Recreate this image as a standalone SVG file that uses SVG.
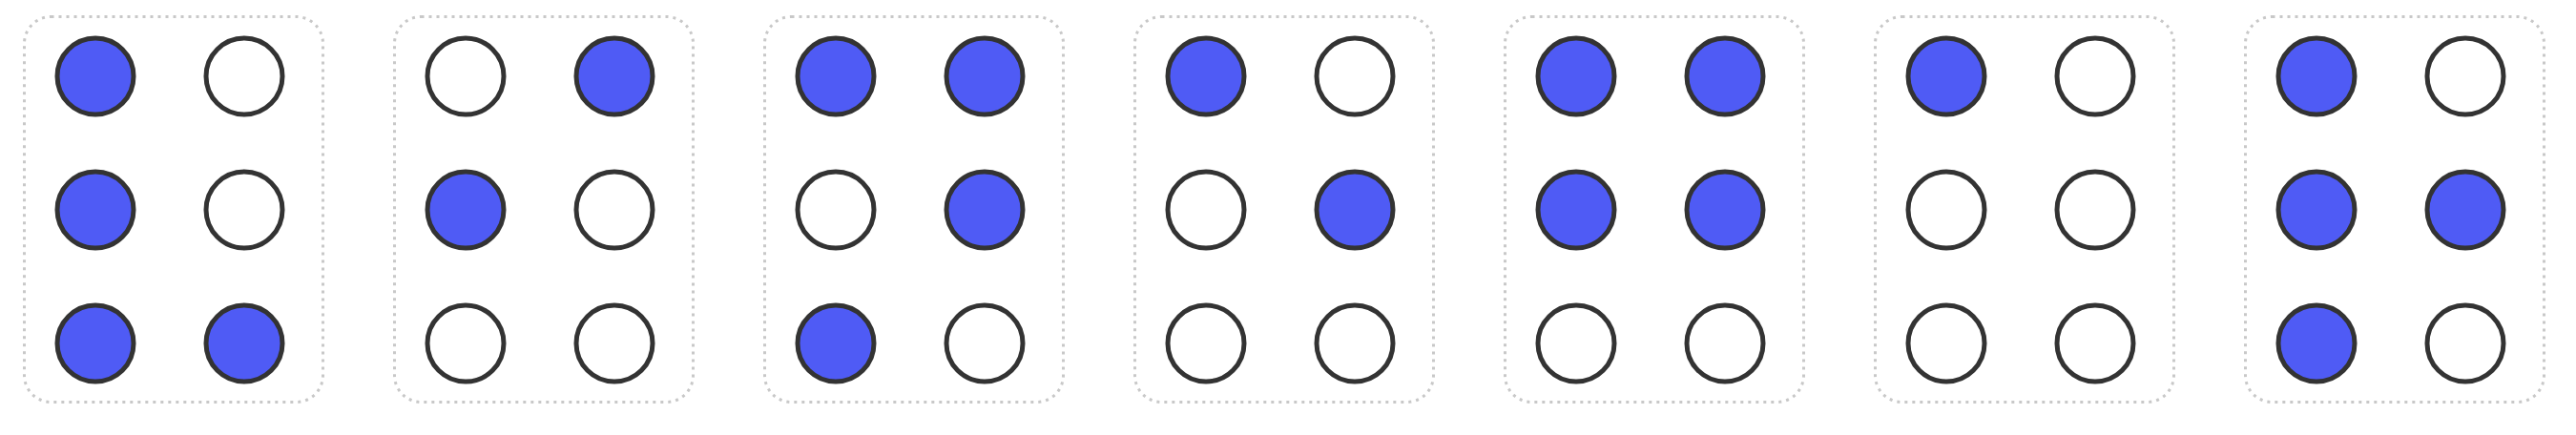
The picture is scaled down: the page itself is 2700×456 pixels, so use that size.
<svg xmlns="http://www.w3.org/2000/svg" width="2700" height="456" viewBox="0 0 2700 456">
<style>
.cell{fill:none;stroke:#c8c8c8;stroke-width:3;stroke-dasharray:3 5}
.dot{stroke:#333333;stroke-width:5;fill:#ffffff}
.on{fill:#4f5bf5}
</style>
<defs>
<rect id="frame" class="cell" x="25.5" y="17.5" width="313" height="404" rx="28" ry="28"/>
</defs>
<rect width="2700" height="456" fill="#ffffff"/>
<g id="cell1">
<use href="#frame"/>
<circle class="dot on" cx="100" cy="80" r="40"/><circle class="dot" cx="256" cy="80" r="40"/>
<circle class="dot on" cx="100" cy="220" r="40"/><circle class="dot" cx="256" cy="220" r="40"/>
<circle class="dot on" cx="100" cy="360" r="40"/><circle class="dot on" cx="256" cy="360" r="40"/>
</g>
<g id="cell2" transform="translate(388,0)">
<use href="#frame"/>
<circle class="dot" cx="100" cy="80" r="40"/><circle class="dot on" cx="256" cy="80" r="40"/>
<circle class="dot on" cx="100" cy="220" r="40"/><circle class="dot" cx="256" cy="220" r="40"/>
<circle class="dot" cx="100" cy="360" r="40"/><circle class="dot" cx="256" cy="360" r="40"/>
</g>
<g id="cell3" transform="translate(776,0)">
<use href="#frame"/>
<circle class="dot on" cx="100" cy="80" r="40"/><circle class="dot on" cx="256" cy="80" r="40"/>
<circle class="dot" cx="100" cy="220" r="40"/><circle class="dot on" cx="256" cy="220" r="40"/>
<circle class="dot on" cx="100" cy="360" r="40"/><circle class="dot" cx="256" cy="360" r="40"/>
</g>
<g id="cell4" transform="translate(1164,0)">
<use href="#frame"/>
<circle class="dot on" cx="100" cy="80" r="40"/><circle class="dot" cx="256" cy="80" r="40"/>
<circle class="dot" cx="100" cy="220" r="40"/><circle class="dot on" cx="256" cy="220" r="40"/>
<circle class="dot" cx="100" cy="360" r="40"/><circle class="dot" cx="256" cy="360" r="40"/>
</g>
<g id="cell5" transform="translate(1552,0)">
<use href="#frame"/>
<circle class="dot on" cx="100" cy="80" r="40"/><circle class="dot on" cx="256" cy="80" r="40"/>
<circle class="dot on" cx="100" cy="220" r="40"/><circle class="dot on" cx="256" cy="220" r="40"/>
<circle class="dot" cx="100" cy="360" r="40"/><circle class="dot" cx="256" cy="360" r="40"/>
</g>
<g id="cell6" transform="translate(1940,0)">
<use href="#frame"/>
<circle class="dot on" cx="100" cy="80" r="40"/><circle class="dot" cx="256" cy="80" r="40"/>
<circle class="dot" cx="100" cy="220" r="40"/><circle class="dot" cx="256" cy="220" r="40"/>
<circle class="dot" cx="100" cy="360" r="40"/><circle class="dot" cx="256" cy="360" r="40"/>
</g>
<g id="cell7" transform="translate(2328,0)">
<use href="#frame"/>
<circle class="dot on" cx="100" cy="80" r="40"/><circle class="dot" cx="256" cy="80" r="40"/>
<circle class="dot on" cx="100" cy="220" r="40"/><circle class="dot on" cx="256" cy="220" r="40"/>
<circle class="dot on" cx="100" cy="360" r="40"/><circle class="dot" cx="256" cy="360" r="40"/>
</g>
<g id="connectors"/>
</svg>
